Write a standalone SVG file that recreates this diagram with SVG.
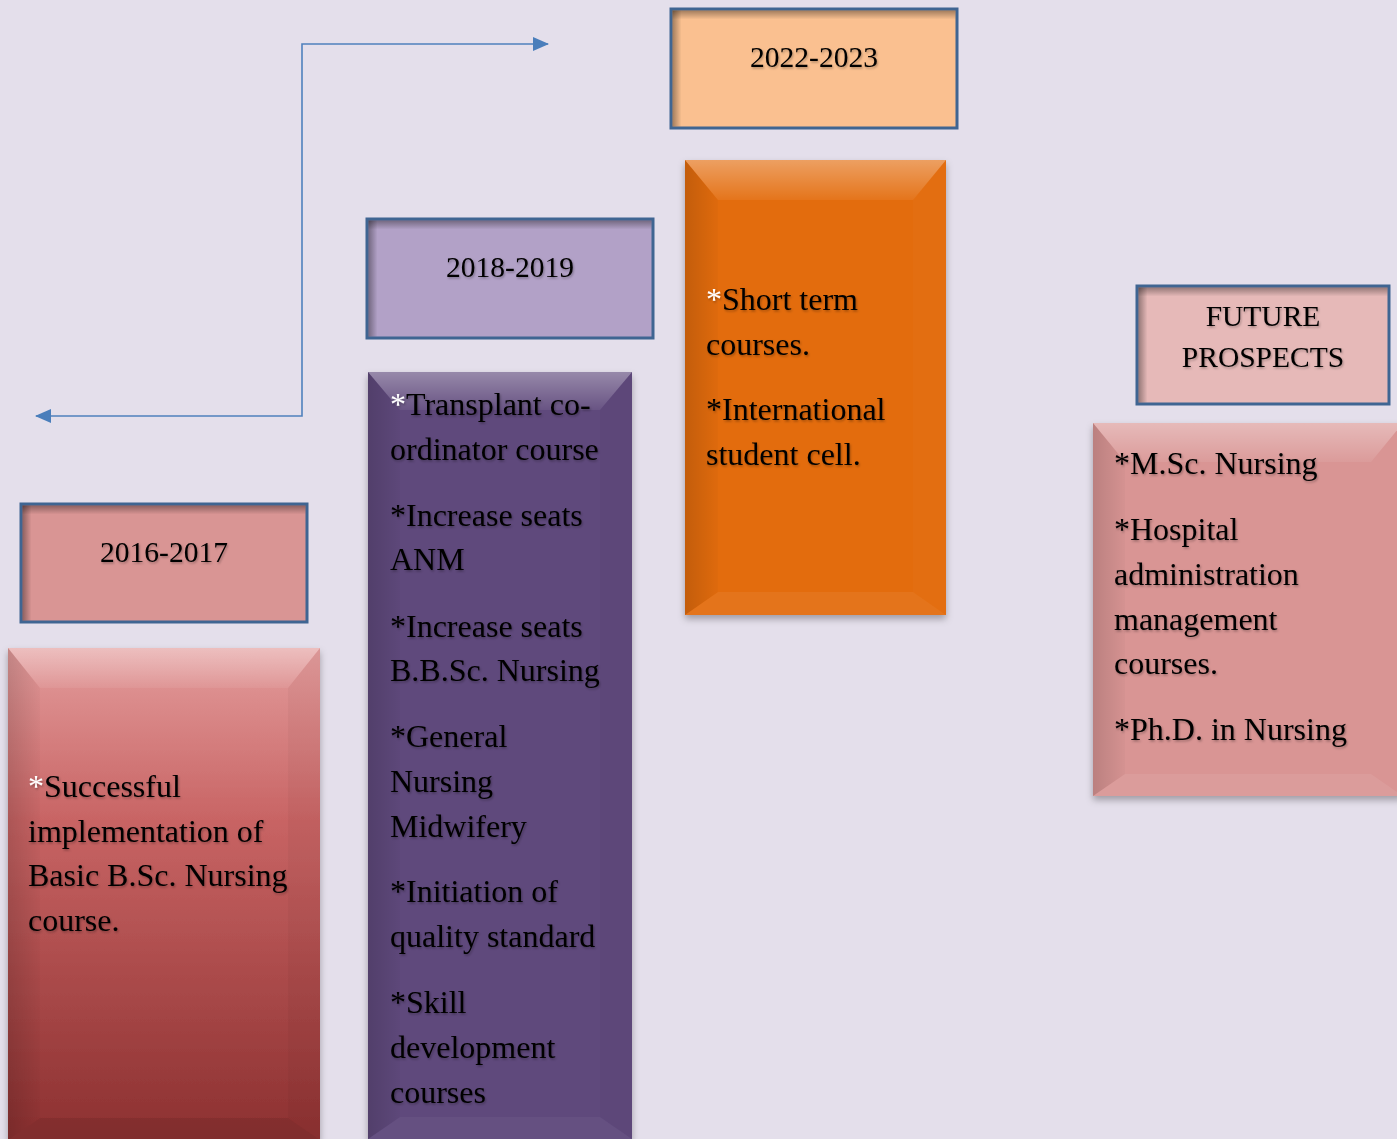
<svg xmlns="http://www.w3.org/2000/svg" width="1397" height="1139" viewBox="0 0 1397 1139">
<defs>
<style>
.hdr{stroke:#3F6592;stroke-width:3}
.ht{font-family:"Liberation Serif","Times New Roman",serif;font-size:29.5px;fill:#000;text-anchor:middle}
.bt{font-family:"Liberation Serif","Times New Roman",serif;font-size:32px;fill:#000}
.w{fill:#fff}
.conn{fill:none;stroke:#4F81BD;stroke-width:1.6}
</style>
<marker id="ah" viewBox="0 0 16 14" refX="15" refY="7" markerWidth="16" markerHeight="14" markerUnits="userSpaceOnUse" orient="auto-start-reverse">
<path d="M0,0 L16,7 L0,14 Z" fill="#4A7EBB"/>
</marker>
<filter id="ts" x="-5%" y="-20%" width="110%" height="140%">
<feDropShadow dx="1" dy="1.5" stdDeviation="1" flood-color="#000" flood-opacity="0.3"/>
</filter>
<filter id="ds" x="-10%" y="-10%" width="120%" height="120%">
<feDropShadow dx="0" dy="4" stdDeviation="3.5" flood-color="#000" flood-opacity="0.3"/>
</filter>
<linearGradient id="topv" x1="0" y1="0" x2="0" y2="1">
<stop offset="0" stop-color="#fff" stop-opacity="0.35"/>
<stop offset="1" stop-color="#fff" stop-opacity="0.06"/>
</linearGradient>
<linearGradient id="lft" x1="0" y1="0" x2="1" y2="0">
<stop offset="0" stop-color="#000" stop-opacity="0.14"/>
<stop offset="1" stop-color="#000" stop-opacity="0.02"/>
</linearGradient>
<linearGradient id="inT" x1="0" y1="0" x2="0" y2="1">
<stop offset="0" stop-color="#000" stop-opacity="0.35"/>
<stop offset="1" stop-color="#000" stop-opacity="0"/>
</linearGradient>
<linearGradient id="inL" x1="0" y1="0" x2="1" y2="0">
<stop offset="0" stop-color="#000" stop-opacity="0.35"/>
<stop offset="1" stop-color="#000" stop-opacity="0"/>
</linearGradient>
<linearGradient id="red" x1="0" y1="0" x2="0" y2="1">
<stop offset="0" stop-color="#E39C9C"/>
<stop offset="0.35" stop-color="#C86464"/>
<stop offset="1" stop-color="#8C3030"/>
</linearGradient>
</defs>
<rect width="1397" height="1139" fill="#E4DFEB"/>

<g id="connectors">
<polyline class="conn" points="548,44 302,44 302,416 36,416" marker-start="url(#ah)" marker-end="url(#ah)"/>
</g>

<g id="h2016">
<rect class="hdr" x="21" y="504" width="286" height="118" fill="#D99594"/>
<rect x="22.5" y="505.5" width="283" height="9" fill="url(#inT)"/>
<rect x="22.5" y="505.5" width="9" height="115" fill="url(#inL)"/>
<text class="ht" x="164" y="562" filter="url(#ts)">2016-2017</text>
</g>

<g id="b2016">
<rect x="8" y="648" width="312" height="492" fill="url(#red)" filter="url(#ds)"/>
<polygon points="8,648 320,648 288,688 40,688" fill="url(#topv)"/>
<polygon points="8,648 40,688 40,1118 8,1140" fill="url(#lft)"/>
<polygon points="320,648 320,1140 288,1118 288,688" fill="#000" opacity="0.03"/>
<polygon points="8,1140 320,1140 288,1118 40,1118" fill="#000" opacity="0.08"/>
<text class="bt" filter="url(#ts)"><tspan x="28" y="797"><tspan class="w">*</tspan>Successful</tspan><tspan x="28" y="842">implementation of</tspan><tspan x="28" y="886">Basic B.Sc. Nursing</tspan><tspan x="28" y="931">course.</tspan></text>
</g>

<g id="h2018">
<rect class="hdr" x="367" y="219" width="286" height="119" fill="#B2A1C7"/>
<rect x="368.5" y="220.5" width="283" height="9" fill="url(#inT)"/>
<rect x="368.5" y="220.5" width="9" height="116" fill="url(#inL)"/>
<text class="ht" x="510" y="277" filter="url(#ts)">2018-2019</text>
</g>

<g id="b2018">
<rect x="368" y="372" width="264" height="767" fill="#5F4A7B" filter="url(#ds)"/>
<polygon points="368,372 632,372 600,410 400,410" fill="url(#topv)"/>
<polygon points="368,372 400,410 400,1117 368,1139" fill="url(#lft)"/>
<polygon points="632,372 632,1139 600,1117 600,410" fill="#000" opacity="0.02"/>
<polygon points="368,1139 632,1139 600,1117 400,1117" fill="#fff" opacity="0.04"/>
<text class="bt" filter="url(#ts)"><tspan x="390" y="415"><tspan class="w">*</tspan>Transplant co-</tspan><tspan x="390" y="460">ordinator course</tspan><tspan x="390" y="526">*Increase seats</tspan><tspan x="390" y="570">ANM</tspan><tspan x="390" y="637">*Increase seats</tspan><tspan x="390" y="681">B.B.Sc. Nursing</tspan><tspan x="390" y="747">*General</tspan><tspan x="390" y="792">Nursing</tspan><tspan x="390" y="837">Midwifery</tspan><tspan x="390" y="902">*Initiation of</tspan><tspan x="390" y="947">quality standard</tspan><tspan x="390" y="1013">*Skill</tspan><tspan x="390" y="1058">development</tspan><tspan x="390" y="1103">courses</tspan></text>
</g>

<g id="h2022">
<rect class="hdr" x="671" y="9" width="286" height="119" fill="#FAC090"/>
<rect x="672.5" y="10.5" width="283" height="9" fill="url(#inT)"/>
<rect x="672.5" y="10.5" width="9" height="116" fill="url(#inL)"/>
<text class="ht" x="814" y="67" filter="url(#ts)">2022-2023</text>
</g>

<g id="b2022">
<rect x="685" y="160" width="261" height="455" fill="#E36C0A" filter="url(#ds)"/>
<polygon points="685,160 946,160 913,200 718,200" fill="url(#topv)"/>
<polygon points="685,160 718,200 718,592 685,615" fill="url(#lft)"/>
<polygon points="946,160 946,615 913,592 913,200" fill="#fff" opacity="0.02"/>
<polygon points="685,615 946,615 913,592 718,592" fill="#fff" opacity="0.06"/>
<text class="bt" filter="url(#ts)"><tspan x="706" y="310"><tspan class="w">*</tspan>Short term</tspan><tspan x="706" y="355">courses.</tspan><tspan x="706" y="420">*International</tspan><tspan x="706" y="465">student cell.</tspan></text>
</g>

<g id="hfuture">
<rect class="hdr" x="1137" y="286" width="252" height="118" fill="#E6B9B8"/>
<rect x="1138.5" y="287.5" width="249" height="9" fill="url(#inT)"/>
<rect x="1138.5" y="287.5" width="9" height="115" fill="url(#inL)"/>
<text class="ht" filter="url(#ts)"><tspan x="1263" y="326">FUTURE</tspan><tspan x="1263" y="367">PROSPECTS</tspan></text>
</g>

<g id="bfuture">
<rect x="1093" y="423" width="310" height="373" fill="#D99594" filter="url(#ds)"/>
<polygon points="1093,423 1403,423 1371,462 1125,462" fill="url(#topv)"/>
<polygon points="1093,423 1125,462 1125,774 1093,796" fill="url(#lft)"/>
<polygon points="1093,796 1403,796 1371,774 1125,774" fill="#fff" opacity="0.07"/>
<text class="bt" filter="url(#ts)"><tspan x="1114" y="474">*M.Sc. Nursing</tspan><tspan x="1114" y="540">*Hospital</tspan><tspan x="1114" y="585">administration</tspan><tspan x="1114" y="630">management</tspan><tspan x="1114" y="674">courses.</tspan><tspan x="1114" y="740">*Ph.D. in Nursing</tspan></text>
</g>
</svg>
